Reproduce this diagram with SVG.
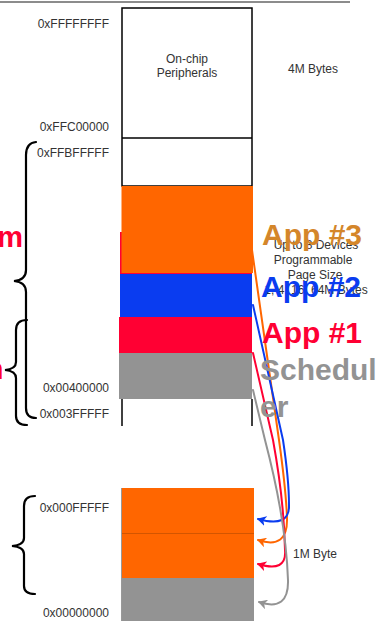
<svg xmlns="http://www.w3.org/2000/svg" width="392" height="621" viewBox="0 0 392 621">
<style>
.t{font-family:"Liberation Sans",Arial,sans-serif;font-size:12px;fill:#333}
.r{text-anchor:end}
.c{text-anchor:middle}
.big{font-family:"Liberation Sans",Arial,sans-serif;font-size:30px;font-weight:bold}
.brace{fill:none;stroke:#000;stroke-width:2.2;stroke-linecap:round}
.ln{fill:none;stroke-width:2;stroke-linecap:round}
</style>
<defs>
<marker id="ab" markerWidth="10" markerHeight="10" refX="8" refY="5" orient="auto" markerUnits="userSpaceOnUse"><path d="M0,0 L9,5 L0,10 L2.5,5 z" fill="#0a3cf0"/></marker>
<marker id="ao" markerWidth="10" markerHeight="10" refX="8" refY="5" orient="auto" markerUnits="userSpaceOnUse"><path d="M0,0 L9,5 L0,10 L2.5,5 z" fill="#ff6600"/></marker>
<marker id="ar" markerWidth="10" markerHeight="10" refX="8" refY="5" orient="auto" markerUnits="userSpaceOnUse"><path d="M0,0 L9,5 L0,10 L2.5,5 z" fill="#ff0033"/></marker>
<marker id="ag" markerWidth="10" markerHeight="10" refX="8" refY="5" orient="auto" markerUnits="userSpaceOnUse"><path d="M0,0 L9,5 L0,10 L2.5,5 z" fill="#939393"/></marker>
</defs>

<line x1="0" y1="2" x2="350" y2="2" stroke="#666" stroke-width="1.5"/>

<g id="memory-column">
<rect x="122" y="8" width="130" height="178" fill="#fff" stroke="#000" stroke-width="1.5"/>
<line x1="122" y1="138" x2="252" y2="138" stroke="#000" stroke-width="1.5"/>
<line x1="122" y1="399" x2="122" y2="426" stroke="#000" stroke-width="1.5"/>
<line x1="252" y1="399" x2="252" y2="426" stroke="#000" stroke-width="1.5"/>
</g>

<g id="on-chip">
<text class="t c" x="187" y="63">On-chip</text>
<text class="t c" x="187" y="77">Peripherals</text>
</g>

<g id="app3-block">
<rect x="120" y="232" width="132" height="44" fill="#ff0033"/>
<rect x="121.5" y="186" width="131.5" height="87" fill="#ff6600"/>
</g>
<g id="app2-block"><rect x="120" y="274" width="132" height="44" fill="#0a3cf0"/></g>
<g id="app1-block"><rect x="119" y="317" width="133" height="36" fill="#ff0033"/></g>
<g id="scheduler-block"><rect x="119" y="353" width="133" height="46" fill="#939393"/></g>

<g id="low-memory">
<line x1="122" y1="488" x2="122" y2="621" stroke="#333" stroke-width="1"/>
<rect x="122" y="488" width="132" height="90" fill="#ff6600"/>
<line x1="122" y1="533.5" x2="254" y2="533.5" stroke="#c85000" stroke-width="0.8"/>
<rect x="122" y="578" width="132" height="43" fill="#939393"/>
</g>

<g id="addresses">
<text class="t r" x="109" y="28">0xFFFFFFFF</text>
<text class="t r" x="109" y="131">0xFFC00000</text>
<text class="t r" x="109" y="157">0xFFBFFFFF</text>
<text class="t r" x="109" y="392">0x00400000</text>
<text class="t r" x="109" y="418">0x003FFFFF</text>
<text class="t r" x="109" y="512">0x000FFFFF</text>
<text class="t r" x="109" y="617">0x00000000</text>
<text class="t" x="288" y="73">4M Bytes</text>
<text class="t" x="293" y="558">1M Byte</text>
</g>

<g id="page-size-note">
<text class="t c" x="316" y="249">Up to 8 Devices</text>
<text class="t c" x="313" y="264">Programmable</text>
<text class="t c" x="315" y="279">Page Size</text>
<text class="t c" x="316" y="294">1, 4, 16, 64M Bytes</text>
</g>

<g id="braces">
<path class="brace" d="M36,142 Q26,143 26,155 L26,270 Q26,280 14,281 Q26,282 26,292 L26,408 Q26,418 36,418"/>
<path class="brace" d="M27,320 Q16,320 16,330 L16,362 Q16,369 5,370 Q16,371 16,378 L16,416 Q16,425 27,425"/>
<path class="brace" d="M35,496 Q24,496 24,506 L24,538 Q24,545 12,546 Q24,547 24,554 L24,586 Q24,594 35,594"/>
<text x="23" y="247" text-anchor="end" font-family="Liberation Sans,Arial,sans-serif" font-size="29" font-weight="bold" fill="#ff0033">m</text>
<text x="3.5" y="379" text-anchor="end" font-family="Liberation Sans,Arial,sans-serif" font-size="29" font-weight="bold" fill="#ff0033">n</text>
</g>

<g id="connectors">
<path class="ln" stroke="#ff6600" d="M252,250 L279,440 Q286,490 287,518 Q288,550 258,540" marker-end="url(#ao)"/>
<path class="ln" stroke="#0a3cf0" d="M253,305 L283,440 Q289,480 289,505 Q290,528 258,519" marker-end="url(#ab)"/>
<path class="ln" stroke="#ff0033" d="M253,353 L273,440 Q284,500 285,550 Q287,573 258,564" marker-end="url(#ar)"/>
<path class="ln" stroke="#939393" d="M253,390 L265,440 Q286,520 288,580 Q289,612 259,602" marker-end="url(#ag)"/>
</g>

<g id="labels">
<text class="big" x="262" y="245" fill="#d4862a">App #3</text>
<text class="big" x="261" y="297" fill="#0a3cf0">App #2</text>
<text class="big" x="262" y="343" fill="#ff0033">App #1</text>
<text class="big" x="260" y="380" fill="#939393">Schedul</text>
<text class="big" x="260" y="417" fill="#939393">er</text>
</g>
</svg>
